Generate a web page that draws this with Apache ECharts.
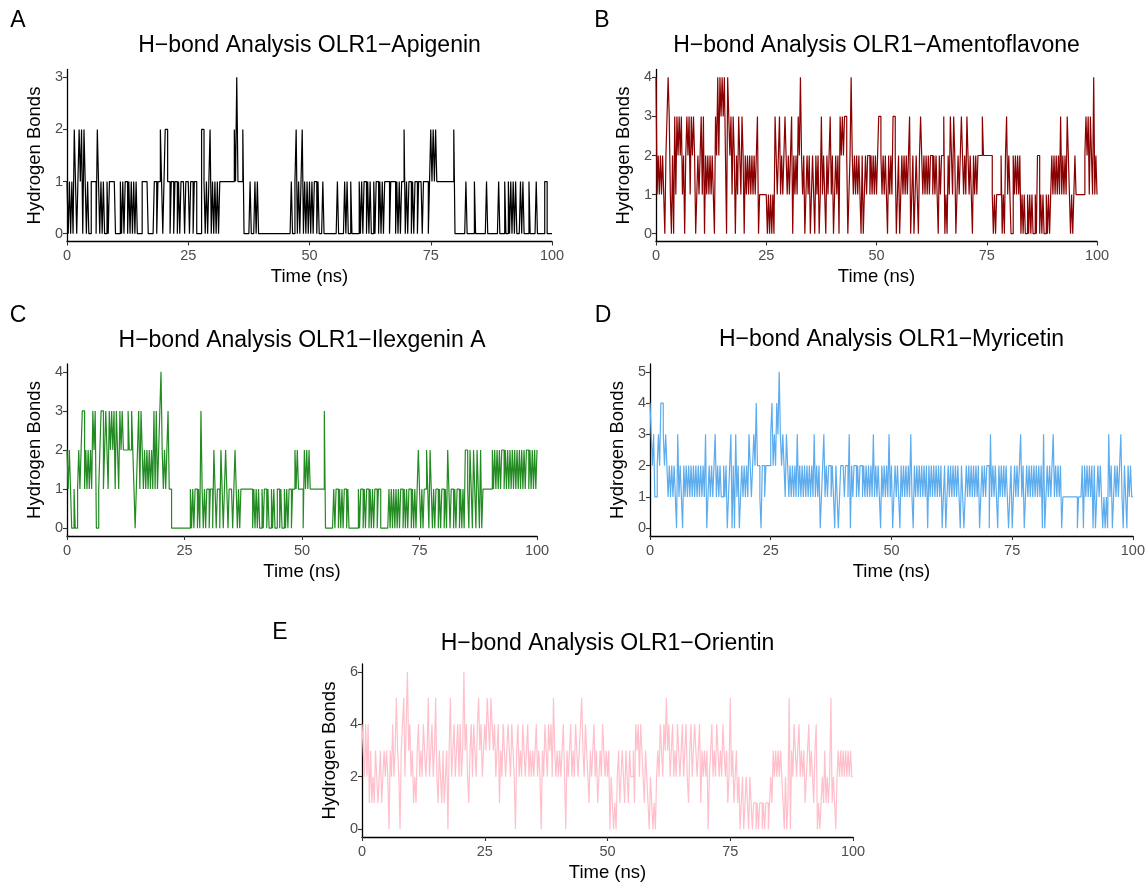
<!DOCTYPE html>
<html><head><meta charset="utf-8">
<script src="https://cdn.jsdelivr.net/npm/echarts@6/dist/echarts.min.js"></script>
<style>html,body{margin:0;padding:0;background:#fff}#c{width:1148px;height:883px}</style>
</head><body><div id="c"></div>
<script>
// ---- data (hydrogen bond counts, one value per 0.25 ns frame) ----
const frameStep = 0.25; // ns per recorded frame
const xTicks = [0, 25, 50, 75, 100];

const apigenin = [
 "10101021012120210100","11110210101001011111","00001010110101010100","00111110000011011210","12211011011010111011",
 "10110110000221010120","10101011111111111121","31111200000100010100","00000000000000000000","00000100120101201010",
 "10101101000100000000","00010000010100100000","01010110101001011010","10111101111010101120","10110101101110111101",
 "21212111111111111112","00000000010000001000","00000010000000001000","01001010101000101000","01000001000000110000","0"];
const amentoflavone = [
 "41212121023431020313","23231202323132320121","23130212121210324243","43420432313202132132","02121212121230111111",
 "10101010321231212321","21230212132421201212","01210212013121021231","20121203232332012421","21212102012122121212",
 "12332121210212133201","20121212123012012102","32121212122121210212","23010213213201212321","21321210212122223222",
 "22222101011112010231","21002121212010100101","01001022010100101012","12121213121213210101","21111111123231321412","1"];
const ilexgenin = [
 "21210010012123312121","21323001233123213232","31321323222232232101","23132121212121313123","42121231100000000000",
 "00000101011010310101","10110210110210121011","10121010111111111101","01010010110100101001","10100101011011212111",
 "10212121111111111113","00000001011010101101","00000000101101011010","10110110000000101010","10101101010110101012",
 "10101121021010110101","10102101101011010102","21021021021020111111","11212121212212121212","12121212121221212121","2"];
const myricetin = [
 "43231123244323212121","21031210212121212121","21212130121212312121","12120123020312012121","21321232422102212222",
 "34232435323213212121","21312121212121213121","20123121221210210122","21221302122121221212","12121312121021212131",
 "20121210212121213102","12121212120212121212","12012012121212121021","01212121212120121212","20312121021212121012",
 "01212123120121212121","21212030121212312121","20111111111111011120","21212120201212101010","31201212123102102121","1"];
const orientin = [
 "43242413121321231232","32032423532034524634","23121342324323523423","52132131230352342342","42363421342432453423",
 "43543543423413243234","32432034232432342323","23423203243243425323","23234203234232432345","32432132342312324323",
 "23021010231232132132","23143424321321021010","23243243534234232432","34234213423432341323","23023423243232432312",
 "52312312012012102101","10101101011012132323","23210201503243234232","31234232134010121312","12512102323232323232","2"];

const titles = ["H\u2212bond Analysis OLR1\u2212Apigenin","H\u2212bond Analysis OLR1\u2212Amentoflavone",
 "H\u2212bond Analysis OLR1\u2212Ilexgenin A","H\u2212bond Analysis OLR1\u2212Myricetin","H\u2212bond Analysis OLR1\u2212Orientin"];
const letters = ["A","B","C","D","E"];
const yMaxes = [3, 4, 4, 5, 6];
const colors = ["#000000","#8B0000","#228B22","#5CACEE","#FFC0CB"];
const rawSeries = [apigenin, amentoflavone, ilexgenin, myricetin, orientin];

// ---- layout ----
const grids = [
  {left: 67,  top: 69.5, width: 485, height: 172},
  {left: 656, top: 69.5, width: 441, height: 172},
  {left: 67,  top: 364,  width: 470, height: 172},
  {left: 650, top: 364,  width: 483, height: 172},
  {left: 362, top: 664,  width: 491, height: 173}
];
const titlePos = [[309.5,46],[876.5,46],[302,341],[891.5,340],[607.5,644]];
const letterPos = [[18,21],[602,21],[18,316],[603,316],[280,633]];

const FONT = "'Liberation Sans', Arial, Helvetica, sans-serif";
const axisLineStyle = {color: '#000', width: 1.3};

const option = {
  animation: false,
  backgroundColor: '#fff',
  grid: grids.map(g => Object.assign({containLabel: false}, g)),
  xAxis: grids.map((g, i) => ({
    type: 'value', gridIndex: i, min: 0, max: 100, interval: 25,
    name: 'Time (ns)', nameLocation: 'middle', nameGap: 26,
    nameTextStyle: {fontFamily: FONT, fontSize: 18.5, color: '#000'},
    axisLine: {show: true, onZero: false, lineStyle: axisLineStyle},
    axisTick: {show: true, length: 4, lineStyle: {color: '#333', width: 1.1}},
    axisLabel: {show: true, margin: 7, fontFamily: FONT, fontSize: 14.5, color: '#4D4D4D', showMinLabel: true, showMaxLabel: true},
    splitLine: {show: false}
  })),
  yAxis: grids.map((g, i) => {
    const m = yMaxes[i];
    const vals = [];
    for (let v = 0; v <= m; v += (m === 6 ? 2 : 1)) vals.push(v);
    return {
      type: 'value', gridIndex: i, min: -0.05 * m, max: 1.05 * m,
      name: 'Hydrogen Bonds', nameLocation: 'middle', nameGap: 23, nameRotate: 90,
      nameTextStyle: {fontFamily: FONT, fontSize: 18.5, color: '#000'},
      axisLine: {show: true, onZero: false, lineStyle: axisLineStyle},
      axisTick: {show: true, length: 4, customValues: vals, lineStyle: {color: '#333', width: 1.1}},
      axisLabel: {show: true, margin: 4, customValues: vals, fontFamily: FONT, fontSize: 14.5, color: '#4D4D4D'},
      splitLine: {show: false}
    };
  }),
  series: rawSeries.map((raw, i) => {
    const vals = raw.join('').split('').map(Number);
    return {
      type: 'line', xAxisIndex: i, yAxisIndex: i, step: 'end',
      data: vals.map((v, k) => [k * frameStep, v]),
      showSymbol: false, symbol: 'none', silent: true,
      lineStyle: {color: colors[i], width: 1.2},
      itemStyle: {color: colors[i]}
    };
  }),
  graphic: titles.map((t, i) => ({
    type: 'text', x: titlePos[i][0], y: titlePos[i][1],
    style: {text: t, fill: '#000', font: '23px ' + FONT, textAlign: 'center', textVerticalAlign: 'middle', verticalAlign: 'middle'}
  })).concat(letters.map((t, i) => ({
    type: 'text', x: letterPos[i][0], y: letterPos[i][1],
    style: {text: t, fill: '#000', font: '23px ' + FONT, textAlign: 'center', textVerticalAlign: 'middle', verticalAlign: 'middle'}
  })))
};

const chart = echarts.init(document.getElementById('c'), null, {renderer: 'canvas'});
chart.setOption(option);
</script>
</body></html>
